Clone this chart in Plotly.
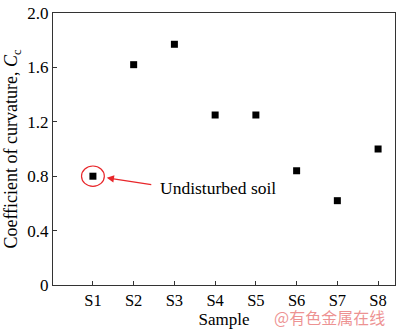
import plotly.graph_objects as go

# Coefficient of curvature for each soil sample
samples = ["S1", "S2", "S3", "S4", "S5", "S6", "S7", "S8"]
cc_values = [0.80, 1.62, 1.77, 1.25, 1.25, 0.84, 0.62, 1.00]
y_ticks = [0, 0.4, 0.8, 1.2, 1.6, 2.0]
y_tick_text = ["0", "0.4", "0.8", "1.2", "1.6", "2.0"]

x_pos = list(range(1, len(samples) + 1))
serif = "Liberation Serif"
axis_color = "#333333"

fig = go.Figure()
fig.add_trace(go.Scatter(
    x=x_pos, y=cc_values, mode="markers",
    marker=dict(symbol="square", size=7, color="black"),
    showlegend=False,
))

# Highlight the undisturbed sample (S1)
hx, hy = x_pos[0], cc_values[0]
fig.add_shape(type="circle", xref="x", yref="y",
              x0=hx - 0.28, x1=hx + 0.28, y0=hy - 0.075, y1=hy + 0.075,
              line=dict(color="#e8262a", width=1.2))
fig.add_annotation(x=hx + 0.34, y=hy - 0.012, xref="x", yref="y",
                   ax=46, ay=7, text="", showarrow=True,
                   arrowhead=2, arrowsize=1.2, arrowwidth=1.2, arrowcolor="#e8262a")
fig.add_annotation(x=hx + 1.59, y=hy - 0.086, xref="x", yref="y",
                   text="Undisturbed soil", showarrow=False,
                   xanchor="left", yanchor="middle",
                   font=dict(family=serif, size=17.5, color="black"))

# Watermark
fig.add_annotation(x=0.977, y=-0.118, xref="paper", yref="paper",
                   text="@有色金属在线", showarrow=False,
                   xanchor="right", yanchor="middle",
                   font=dict(family="Noto Sans CJK SC", size=16, color="rgba(232,110,110,0.75)"))

fig.update_xaxes(
    range=[0.02, 8.415], tickvals=x_pos, ticktext=samples,
    ticks="inside", ticklen=4, tickcolor=axis_color,
    showline=True, linecolor=axis_color, linewidth=1.2, mirror=True,
    showgrid=False, zeroline=False,
    tickfont=dict(family=serif, size=16.5, color="black"),
    title=dict(text="Sample", font=dict(family=serif, size=17, color="black"), standoff=1),
)
fig.update_yaxes(
    range=[0, 2.0], tickvals=y_ticks, ticktext=y_tick_text,
    ticks="inside", ticklen=4, tickcolor=axis_color,
    ticklabeloverflow="allow",
    showline=True, linecolor=axis_color, linewidth=1.2, mirror=True,
    showgrid=False, zeroline=False,
    tickfont=dict(family=serif, size=17, color="black"),
    title=dict(text="Coefficient of curvature, <i>C</i><sub>c</sub>",
               font=dict(family=serif, size=18, color="black"), standoff=4),
)
fig.update_layout(
    width=400, height=329,
    margin=dict(l=53, r=4, t=6, b=44),
    paper_bgcolor="white", plot_bgcolor="white",
)
fig.write_html("out.html")
